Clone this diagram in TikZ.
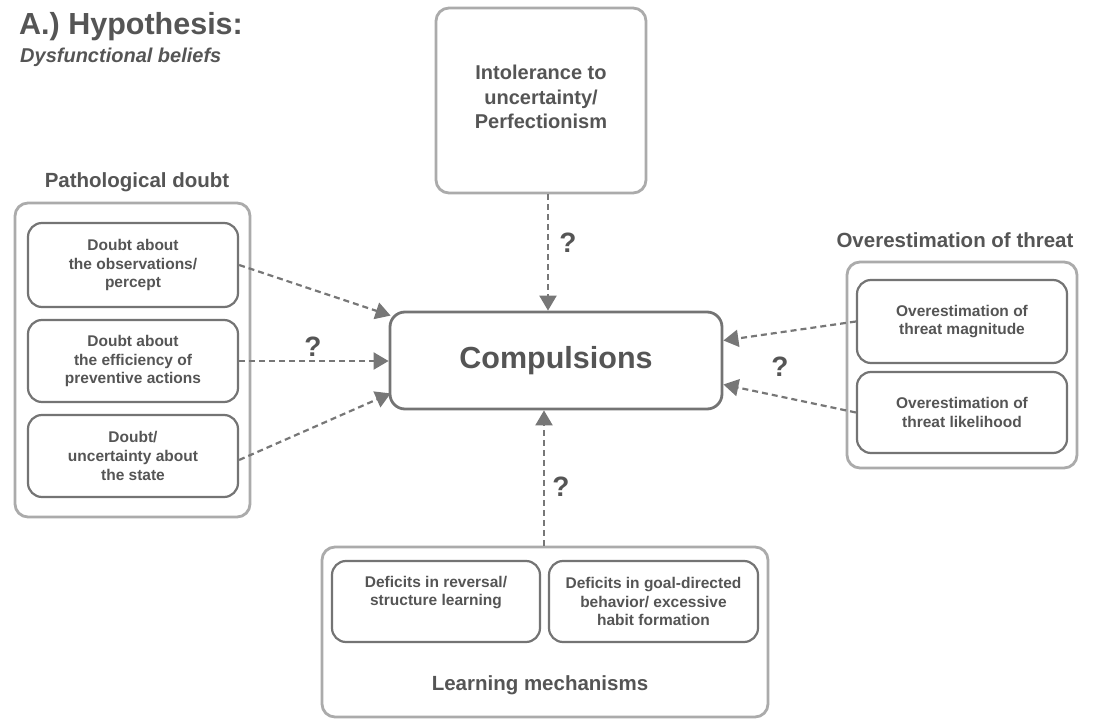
\documentclass[tikz,border=0pt]{standalone}
\usepackage{fontspec}
\setmainfont{Liberation Sans}
\usetikzlibrary{arrows.meta,calc}
\definecolor{txt}{HTML}{555555}
\definecolor{outerc}{HTML}{ABABAB}
\definecolor{innerc}{HTML}{747474}
\definecolor{arrc}{HTML}{777777}
\tikzset{
  outerbox/.style={draw=outerc,line width=2.8pt,rounded corners=13pt,fill=white},
  innerbox/.style={draw=innerc,line width=2.2pt,rounded corners=14pt,align=center,text=txt,font=\bfseries\fontsize{15.5}{18.8}\selectfont,inner sep=0pt},
  grouptitle/.style={text=txt,font=\bfseries\fontsize{20.5}{24}\selectfont,inner sep=0pt},
  qmark/.style={text=txt,font=\bfseries\fontsize{28}{30}\selectfont,inner sep=0pt},
  dasharrow/.style={draw=arrc,line width=2.2pt,dash pattern=on 6pt off 4pt,-{Triangle[length=15pt,width=17pt,sep=0pt]}},
}
\begin{document}
\begin{tikzpicture}[x=1pt,y=-1pt]
\useasboundingbox (0,0) rectangle (1093,719);
% titles
\node[anchor=base west,text=txt,font=\bfseries\fontsize{30.5}{34}\selectfont,inner sep=0pt] (title) at (19,35) {A.) Hypothesis:};
\node[anchor=base west,text=txt,font=\bfseries\itshape\fontsize{20}{24}\selectfont,inner sep=0pt] (subtitle) at (20,63) {Dysfunctional beliefs};
% top box
\node[outerbox,minimum width=210pt,minimum height=185pt] (top) at (541,100.5) {};
\node[text=txt,align=center,font=\bfseries\fontsize{20}{24.5}\selectfont,inner sep=0pt] (toptext) at (541,97) {Intolerance to\\uncertainty/\\Perfectionism};
% compulsions
\node[draw=innerc,line width=2.8pt,rounded corners=15pt,minimum width=332pt,minimum height=97pt,text=txt,font=\bfseries\fontsize{30.5}{34}\selectfont] (comp) at (556,360.5) {Compulsions};
% pathological doubt
\node[grouptitle] (pdtitle) at (137,182) {Pathological doubt};
\node[outerbox,minimum width=235pt,minimum height=314pt] (pd) at (132.5,360) {};
\node[innerbox,minimum width=210pt,minimum height=84pt] (d1) at (133,265) {Doubt about\\the observations/\\percept};
\node[innerbox,minimum width=210pt,minimum height=82pt] (d2) at (133,361) {Doubt about\\the efficiency of\\preventive actions};
\node[innerbox,minimum width=210pt,minimum height=82pt] (d3) at (133,456) {Doubt/\\uncertainty about\\the state};
% overestimation of threat
\node[grouptitle] (ottitle) at (955,240) {Overestimation of threat};
\node[outerbox,minimum width=230pt,minimum height=206pt] (ot) at (962,365) {};
\node[innerbox,minimum width=210pt,minimum height=83pt] (t1) at (962,321.5) {Overestimation of\\threat magnitude};
\node[innerbox,minimum width=210pt,minimum height=81pt] (t2) at (962,412.5) {Overestimation of\\threat likelihood};
% learning mechanisms
\node[outerbox,minimum width=446pt,minimum height=170pt] (lm) at (545,632) {};
\node[innerbox,minimum width=208pt,minimum height=81pt] (l1) at (436,601.5) {};
\node[text=txt,align=center,font=\bfseries\fontsize{15.5}{18.8}\selectfont,inner sep=0pt] (l1text) at (436,592.5) {Deficits in reversal/\\structure learning};
\node[innerbox,minimum width=209pt,minimum height=81pt] (l2) at (653.5,601.5) {Deficits in goal-directed\\behavior/ excessive\\habit formation};
\node[grouptitle] (lmtitle) at (540,685) {Learning mechanisms};
% arrows
\draw[dasharrow] (d1.east) -- ($(comp.north west)+(2,5)$);
\draw[dasharrow] (d2.east) -- (comp.west |- d2.east);
\draw[dasharrow] ([yshift=-4pt]d3.east) -- ($(comp.south west)+(2,-17)$);
\draw[dasharrow] (t1.west) -- ($(comp.east)+(0,-20)$);
\draw[dasharrow] (t2.west) -- ($(comp.east)+(0,24)$);
\draw[dasharrow] ([xshift=7pt]top.south) -- ([xshift=-8pt]comp.north);
\draw[dasharrow] ([xshift=-1pt]lm.north) -- ([xshift=-12pt]comp.south);
% question marks
\node[qmark] (q1) at (313,347) {?};
\node[qmark] (q2) at (568,243) {?};
\node[qmark] (q3) at (780,367) {?};
\node[qmark] (q4) at (561,487) {?};
\end{tikzpicture}
\end{document}
